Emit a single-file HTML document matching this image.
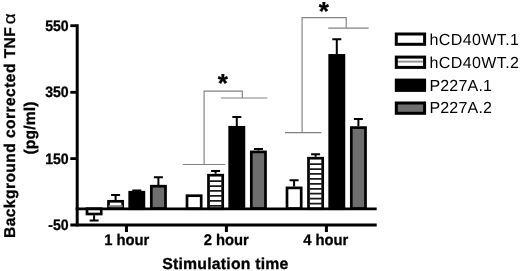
<!DOCTYPE html>
<html><head><meta charset="utf-8"><title>chart</title>
<style>
html,body{margin:0;padding:0;background:#fff;}
body{width:520px;height:271px;overflow:hidden;font-family:"Liberation Sans",sans-serif;}
svg{display:block}
text{font-family:"Liberation Sans",sans-serif;fill:#000;text-rendering:geometricPrecision}
.b{font-weight:bold;stroke:#000;stroke-width:0.3px}
</style></head><body>
<svg width="520" height="271" viewBox="0 0 520 271">
<defs>
<pattern id="st" x="0" y="204.4" width="20" height="5.15" patternUnits="userSpaceOnUse">
<rect x="0" y="0" width="20" height="5.15" fill="#fff"/>
<rect x="0" y="0" width="20" height="1.7" fill="#222"/>
</pattern>
<pattern id="st2" x="0" y="54.6" width="40" height="14" patternUnits="userSpaceOnUse">
<rect x="0" y="0" width="40" height="14" fill="#fff"/>
<rect x="0" y="6.5" width="40" height="1" fill="#2a2a2a"/>
</pattern>
</defs>
<rect width="520" height="271" fill="#fff"/>

<g fill="none" stroke="#828282" stroke-width="1.15">
<path d="M182.8 164.5H225.2M204.1 164.5V91.1H242.3V98M220.9 98H267.3"/>
<path d="M285 132.6H321.4M302.1 132.6V17.6H346.2V28.1M328.2 28.1H368.6"/>
</g>
<path d="M94.1 215.3V220.5M89.6 220.5H98.6" stroke="#000" stroke-width="2" fill="none"/>
<rect x="87.0" y="208.7" width="14.2" height="5.3" fill="#fff" stroke="#000" stroke-width="2.7"/>
<path d="M115.6 200.0V195.0M111.1 195.0H120.1" stroke="#000" stroke-width="2" fill="none"/>
<rect x="108.5" y="201.3" width="14.2" height="7.3" fill="#fff" stroke="#000" stroke-width="2.7"/>
<path d="M108.5 206.20H122.7" stroke="#808080" stroke-width="2" fill="none"/>
<path d="M136.8 190.8V190.4M132.3 190.4H141.3" stroke="#000" stroke-width="2" fill="none"/>
<rect x="129.7" y="192.2" width="14.2" height="16.5" fill="#000" stroke="#000" stroke-width="2.7"/>
<path d="M158.4 184.9V177.3M153.9 177.3H162.9" stroke="#000" stroke-width="2" fill="none"/>
<rect x="151.3" y="186.2" width="14.2" height="22.4" fill="#6e6e6e" stroke="#000" stroke-width="2.7"/>
<rect x="187.0" y="195.7" width="14.2" height="13.0" fill="#fff" stroke="#000" stroke-width="2.7"/>
<path d="M215.6 173.8V171.0M211.1 171.0H220.1" stroke="#000" stroke-width="2" fill="none"/>
<rect x="208.5" y="175.2" width="14.2" height="33.5" fill="#fff" stroke="#000" stroke-width="2.7"/>
<path d="M208.5 181.10H222.7M208.5 186.03H222.7M208.5 190.96H222.7M208.5 195.89H222.7M208.5 200.82H222.7M208.5 205.75H222.7" stroke="#1a1a1a" stroke-width="1.75" fill="none"/>
<path d="M236.8 126.0V117.0M232.3 117.0H241.3" stroke="#000" stroke-width="2" fill="none"/>
<rect x="229.7" y="127.3" width="14.2" height="81.3" fill="#000" stroke="#000" stroke-width="2.7"/>
<path d="M258.4 150.6V148.9M253.9 148.9H262.9" stroke="#000" stroke-width="2" fill="none"/>
<rect x="251.3" y="151.9" width="14.2" height="56.7" fill="#6e6e6e" stroke="#000" stroke-width="2.7"/>
<path d="M294.1 186.6V180.2M289.6 180.2H298.6" stroke="#000" stroke-width="2" fill="none"/>
<rect x="287.0" y="187.9" width="14.2" height="20.7" fill="#fff" stroke="#000" stroke-width="2.7"/>
<path d="M315.6 156.8V154.2M311.1 154.2H320.1" stroke="#000" stroke-width="2" fill="none"/>
<rect x="308.5" y="158.2" width="14.2" height="50.5" fill="#fff" stroke="#000" stroke-width="2.7"/>
<path d="M308.5 164.10H322.7M308.5 169.03H322.7M308.5 173.96H322.7M308.5 178.89H322.7M308.5 183.82H322.7M308.5 188.75H322.7M308.5 193.68H322.7M308.5 198.61H322.7M308.5 203.54H322.7" stroke="#1a1a1a" stroke-width="1.75" fill="none"/>
<path d="M336.8 54.0V39.3M332.3 39.3H341.3" stroke="#000" stroke-width="2" fill="none"/>
<rect x="329.7" y="55.4" width="14.2" height="153.3" fill="#000" stroke="#000" stroke-width="2.7"/>
<path d="M358.4 126.3V119.1M353.9 119.1H362.9" stroke="#000" stroke-width="2" fill="none"/>
<rect x="351.3" y="127.6" width="14.2" height="81.0" fill="#6e6e6e" stroke="#000" stroke-width="2.7"/>
<g stroke="#000" fill="none">
<path d="M77.2 24.2V226.4" stroke-width="3"/>
<path d="M75.7 208.9H376.7" stroke-width="2.9"/>
<path d="M70.3 224.95H376.7" stroke-width="2.9"/>
<path d="M70.3 25.7H76" stroke-width="2.8"/>
<path d="M70.3 92.3H76" stroke-width="2.8"/>
<path d="M70.3 158.6H76" stroke-width="2.8"/>
<path d="M126.45 224.9V232" stroke-width="3"/>
<path d="M226.4 224.9V232" stroke-width="3"/>
<path d="M326.4 224.9V232" stroke-width="3"/>
</g>
<text class="b" transform="translate(68.7 31) scale(0.93 1)" font-size="15.2" text-anchor="end">550</text>
<text class="b" transform="translate(68.7 97) scale(0.93 1)" font-size="15.2" text-anchor="end">350</text>
<text class="b" transform="translate(68.7 164) scale(0.93 1)" font-size="15.2" text-anchor="end">150</text>
<text class="b" transform="translate(68.7 230) scale(0.93 1)" font-size="15.2" text-anchor="end">-50</text>
<text class="b" transform="translate(126.8 245.2) scale(0.96 1)" font-size="15.4" text-anchor="middle">1 hour</text>
<text class="b" transform="translate(226.2 245.2) scale(0.96 1)" font-size="15.4" text-anchor="middle">2 hour</text>
<text class="b" transform="translate(325.8 245.2) scale(0.96 1)" font-size="15.4" text-anchor="middle">4 hour</text>
<text class="b" x="162.2" y="269.2" font-size="15.8" textLength="126.2" lengthAdjust="spacing">Stimulation time</text>
<text class="b" transform="translate(14.5 238) rotate(-90)" font-size="15.6" textLength="210.8" lengthAdjust="spacing">Background corrected TNF</text>
<text transform="translate(15.2 24.2) rotate(-90) scale(1.14 1)" font-size="16.6" stroke="#000" stroke-width="0.25">α</text>
<text class="b" transform="translate(34.6 154.6) rotate(-90)" font-size="15.6" textLength="53" lengthAdjust="spacing">(pg/ml)</text>
<text class="b" x="222.8" y="92" font-size="26" text-anchor="middle">*</text>
<text class="b" x="323.8" y="19.7" font-size="26" text-anchor="middle">*</text>
<rect x="396.3" y="34.0" width="28.3" height="10.3" fill="#fff" stroke="#000" stroke-width="3"/>
<text x="429.4" y="44.9" font-size="16" textLength="89.6" lengthAdjust="spacing">hCD40WT.1</text>
<rect x="396.3" y="57.1" width="28.3" height="10.3" fill="url(#st2)" stroke="#000" stroke-width="3"/>
<text x="429.4" y="67.6" font-size="16" textLength="89.6" lengthAdjust="spacing">hCD40WT.2</text>
<rect x="396.3" y="80.1" width="28.3" height="10.3" fill="#000" stroke="#000" stroke-width="3"/>
<text x="429.4" y="90.5" font-size="16" textLength="62.6" lengthAdjust="spacing">P227A.1</text>
<rect x="396.3" y="103.0" width="28.3" height="10.3" fill="#6e6e6e" stroke="#000" stroke-width="3"/>
<text x="429.4" y="113.3" font-size="16" textLength="62.6" lengthAdjust="spacing">P227A.2</text>
</svg></body></html>
